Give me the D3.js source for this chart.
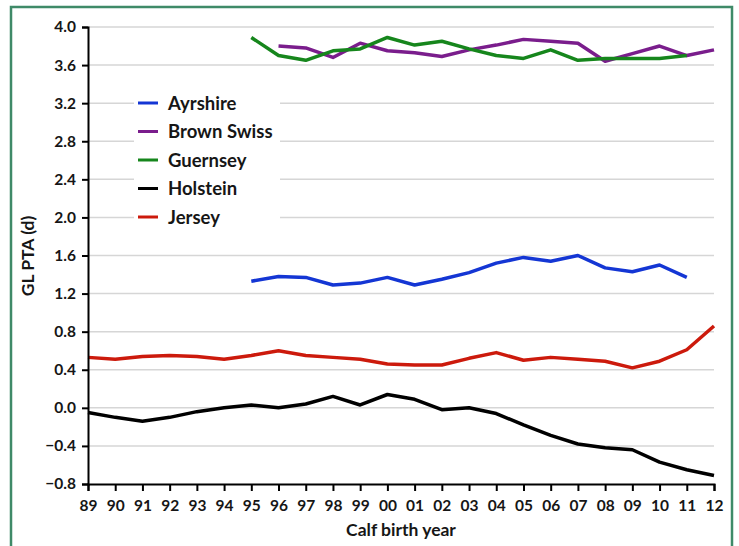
<!DOCTYPE html>
<html><head><meta charset="utf-8">
<script src="https://cdn.jsdelivr.net/npm/d3@7"></script>
<style>
html,body{margin:0;padding:0;background:#fff;}
svg{display:block;font-family:Lato,"Open Sans",sans-serif;}
</style></head>
<body><svg id="c" width="739" height="546"></svg>
<script>
const years = ["89","90","91","92","93","94","95","96","97","98","99","00","01","02","03","04","05","06","07","08","09","10","11","12"];
const yTicks = [-0.8,-0.4,0.0,0.4,0.8,1.2,1.6,2.0,2.4,2.8,3.2,3.6,4.0];
const breeds = ["Ayrshire","Brown Swiss","Guernsey","Holstein","Jersey"];
const colors = ["#1436d4","#7a1d8c","#16861c","#000000","#cc1a0c"];
const ayrshireYears = years.slice(6, 23);
const ayrshire = [1.33,1.38,1.37,1.29,1.31,1.37,1.29,1.35,1.42,1.52,1.58,1.54,1.60,1.47,1.43,1.50,1.37];
const brownSwissYears = years.slice(7, 24);
const brownSwiss = [3.80,3.78,3.68,3.83,3.75,3.73,3.69,3.76,3.81,3.87,3.85,3.83,3.64,3.72,3.80,3.70,3.76];
const guernseyYears = years.slice(6, 23);
const guernsey = [3.89,3.70,3.65,3.75,3.77,3.89,3.81,3.85,3.77,3.70,3.67,3.76,3.65,3.67,3.67,3.67,3.70];
const holsteinYears = years;
const holstein = [-0.05,-0.10,-0.14,-0.10,-0.04,0.00,0.03,0.00,0.04,0.12,0.03,0.14,0.09,-0.02,0.00,-0.06,-0.18,-0.29,-0.38,-0.42,-0.44,-0.57,-0.65,-0.71];
const jerseyYears = years;
const jersey = [0.53,0.51,0.54,0.55,0.54,0.51,0.55,0.60,0.55,0.53,0.51,0.46,0.45,0.45,0.52,0.58,0.50,0.53,0.51,0.49,0.42,0.49,0.61,0.86];

const seriesYears = [ayrshireYears, brownSwissYears, guernseyYears, holsteinYears, jerseyYears];
const seriesVals = [ayrshire, brownSwiss, guernsey, holstein, jersey];

const svg = d3.select("#c");
const L = 88, R = 714, T = 27, B = 484;
const FONT = "Lato, 'Open Sans', sans-serif";

// frame
svg.append("rect").attr("x",11).attr("y",7).attr("width",721).attr("height",560)
  .attr("fill","none").attr("stroke","#3f8a68").attr("stroke-width",2.5);

const x = d3.scalePoint().domain(years).range([L, R]);
const y = d3.scaleLinear().domain([-0.8, 4.0]).range([B, T]);

// gridlines
svg.append("g").selectAll("line").data(yTicks.filter(d => d > -0.8)).join("line")
  .attr("x1", L).attr("x2", R).attr("y1", d => y(d)).attr("y2", d => y(d))
  .attr("stroke","#d6d6d6").attr("stroke-width",1.5);

// legend background (hides gridlines)
const lg = svg.append("g");
lg.append("rect").attr("x",134).attr("y",90).attr("width",146).attr("height",140).attr("fill","#fff");
breeds.forEach((b,i) => {
  const ly = 103 + i*28.5;
  lg.append("line").attr("x1",138).attr("x2",158).attr("y1",ly).attr("y2",ly)
    .attr("stroke",colors[i]).attr("stroke-width",3);
  lg.append("text").attr("x",168).attr("y",ly).attr("dy","0.36em")
    .attr("font-size",18.5).attr("font-weight",700).attr("fill","#161616").text(b);
});

// lines
const line = d3.line().x(d => x(d[0])).y(d => y(d[1]));
seriesVals.forEach((vals,i) => {
  const pts = vals.map((v,j) => [seriesYears[i][j], v]);
  svg.append("path").datum(pts).attr("d", line).attr("fill","none")
    .attr("stroke", colors[i]).attr("stroke-width",3.5).attr("stroke-linejoin","round");
});

// axes
const yAxis = svg.append("g").attr("transform",`translate(${L},0)`)
  .call(d3.axisLeft(y).tickValues(yTicks).tickFormat(d3.format(".1f")).tickSize(6).tickPadding(6));
const xAxis = svg.append("g").attr("transform",`translate(0,${B})`)
  .call(d3.axisBottom(x).tickSize(7).tickPadding(9));
[yAxis, xAxis].forEach(a => {
  a.select(".domain").attr("stroke","#000").attr("stroke-width",2);
  a.selectAll(".tick line").attr("stroke","#000").attr("stroke-width",2);
  a.selectAll("text").attr("font-family",FONT)
    .attr("font-size",15.5).attr("font-weight",700).attr("fill","#161616");
});

svg.append("text").attr("transform","translate(34,256) rotate(-90)").attr("text-anchor","middle")
  .attr("font-size",17.5).attr("font-weight",700).attr("fill","#161616").text("GL PTA (d)");
svg.append("text").attr("x",401).attr("y",536).attr("text-anchor","middle")
  .attr("font-size",17.5).attr("font-weight",700).attr("fill","#161616").text("Calf birth year");
</script></body></html>
